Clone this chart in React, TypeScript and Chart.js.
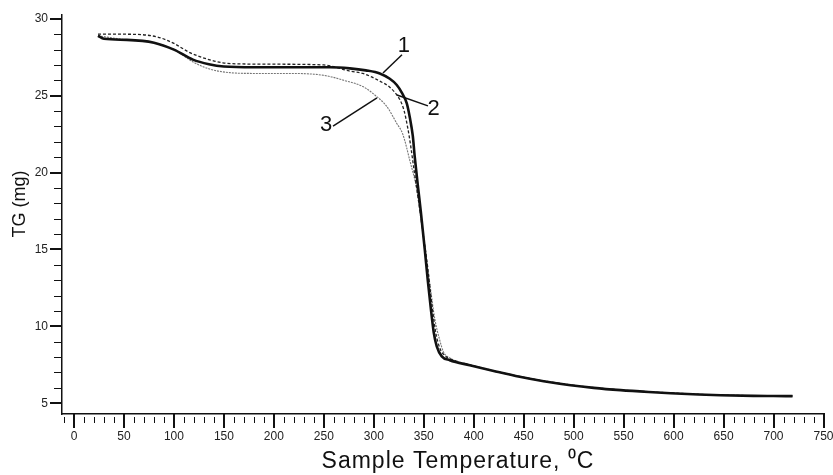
import React, { useEffect, useRef } from 'react';
import { Chart, registerables } from 'chart.js';

Chart.register(...registerables);

// Series 1 (thick solid)
const temp1 = [24, 30, 53, 80, 100, 119, 135, 150, 180, 220, 256, 276, 292, 306, 316, 323, 328, 333, 336, 339, 341, 344, 347, 351, 354, 357, 360, 363, 368, 376, 396, 420, 446, 470, 497, 520, 547, 575, 597, 625, 647, 680, 700, 719];
const tg1 = [28.9, 28.7, 28.63, 28.45, 28.0, 27.35, 27.05, 26.9, 26.85, 26.85, 26.85, 26.78, 26.65, 26.45, 26.1, 25.7, 25.2, 24.5, 23.6, 22.4, 21.0, 19.2, 17.5, 15.0, 13.0, 11.2, 9.6, 8.7, 8.05, 7.8, 7.47, 7.1, 6.72, 6.43, 6.17, 6.0, 5.85, 5.73, 5.65, 5.57, 5.52, 5.48, 5.47, 5.46];

// Series 2 (dashed)
const temp2 = [24, 50, 83, 100, 116, 135, 149, 166, 200, 250, 276, 289, 306, 316, 326, 330, 334, 337, 340, 344, 349, 354, 358, 362, 366, 371, 380, 396, 446, 497, 547, 597, 647, 719];
const tg2 = [29.0, 29.0, 28.83, 28.4, 27.8, 27.35, 27.14, 27.07, 27.05, 27.0, 26.6, 26.45, 25.95, 25.55, 24.75, 24.1, 22.9, 21.7, 20.3, 18.5, 16.2, 13.8, 11.5, 9.6, 8.6, 8.1, 7.8, 7.5, 6.74, 6.19, 5.87, 5.67, 5.53, 5.47];

// Series 3 (grey dotted)
const temp3 = [24, 53, 80, 100, 119, 135, 156, 180, 210, 240, 256, 270, 289, 300, 313, 323, 329, 336, 343, 349, 356, 361, 366, 370, 376, 396, 446, 497, 547, 597, 647, 719];
const tg3 = [28.9, 28.63, 28.45, 28.0, 27.2, 26.75, 26.5, 26.45, 26.45, 26.4, 26.25, 26.0, 25.6, 25.1, 24.3, 23.2, 22.5, 20.8, 18.9, 16.1, 12.8, 10.5, 9.1, 8.3, 7.95, 7.5, 6.72, 6.18, 5.86, 5.66, 5.53, 5.47];

// Curve labels with leader lines (data coordinates)
const annLabels = ['1', '2', '3'];
const annLineX1 = [309.2, 323.2, 259.2];
const annLineY1 = [26.48, 25.05, 23.03];
const annLineX2 = [328.2, 354.2, 303.2];
const annLineY2 = [27.66, 24.34, 24.86];
const annTextX = [330.2, 359.8, 252.2];
const annTextY = [28.21, 24.11, 23.1];

// Axis titles
const X_TITLE = 'Sample Temperature, ⁰C';
const Y_TITLE = 'TG (mg)';

// Axis settings
const X_MIN = -12;
const X_MAX = 750.5;
const X_TICK_START = -10;
const X_TICK_END = 750;
const X_MINOR_STEP = 10;
const X_MAJOR_STEP = 50;
const Y_MIN = 4.3;
const Y_MAX = 30.25;
const Y_TICK_START = 5;
const Y_TICK_END = 30;
const Y_MINOR_STEP = 1;
const Y_MAJOR_STEP = 5;

const toPoints = (xs: number[], ys: number[]) => xs.map((x, i) => ({ x, y: ys[i] }));

const tickFont = { family: "'Liberation Sans Narrow', 'Arial Narrow', Arial, sans-serif", size: 12 };

const axisTicksPlugin = {
  id: 'axisTicks',
  afterDraw(chart: any) {
    const { ctx, chartArea } = chart;
    const xs = chart.scales.x;
    const ys = chart.scales.y;
    ctx.save();
    ctx.strokeStyle = '#111';
    for (let v = X_TICK_START; v <= X_TICK_END; v += X_MINOR_STEP) {
      const major = v % X_MAJOR_STEP === 0;
      const px = Math.round(xs.getPixelForValue(v)) + (major ? 0 : 0.5);
      ctx.lineWidth = major ? 2 : 1;
      ctx.beginPath();
      ctx.moveTo(px, chartArea.bottom + (major ? 0 : 3));
      ctx.lineTo(px, chartArea.bottom + (major ? 14 : 9));
      ctx.stroke();
    }
    for (let v = Y_TICK_START; v <= Y_TICK_END; v += Y_MINOR_STEP) {
      const major = v % Y_MAJOR_STEP === 0;
      const py = Math.round(ys.getPixelForValue(v)) + (major ? 0 : 0.5);
      ctx.lineWidth = major ? 2 : 1;
      ctx.beginPath();
      ctx.moveTo(chartArea.left, py);
      ctx.lineTo(chartArea.left - (major ? 12 : 8), py);
      ctx.stroke();
    }

    // axis titles
    ctx.fillStyle = '#111';
    ctx.textAlign = 'center';
    ctx.textBaseline = 'middle';
    ctx.font = '23px Arial, "Liberation Sans", sans-serif';
    try { (ctx as any).letterSpacing = '1px'; } catch (e) { /* ignore */ }
    ctx.fillText(X_TITLE, 458, 462);
    try { (ctx as any).letterSpacing = '0px'; } catch (e) { /* ignore */ }
    ctx.save();
    ctx.translate(20, 204);
    ctx.rotate(-Math.PI / 2);
    ctx.font = '18px Arial, "Liberation Sans", sans-serif';
    ctx.fillText(Y_TITLE, 0, 0);
    ctx.restore();
    ctx.restore();
  },
};

const annotationPlugin = {
  id: 'curveLabels',
  afterDatasetsDraw(chart: any) {
    const { ctx } = chart;
    const xs = chart.scales.x;
    const ys = chart.scales.y;
    ctx.save();
    ctx.strokeStyle = '#111';
    ctx.lineWidth = 1.5;
    ctx.fillStyle = '#111';
    ctx.font = '22px Arial, "Liberation Sans", sans-serif';
    ctx.textAlign = 'center';
    ctx.textBaseline = 'middle';
    annLabels.forEach((lab, i) => {
      ctx.beginPath();
      ctx.moveTo(xs.getPixelForValue(annLineX1[i]), ys.getPixelForValue(annLineY1[i]));
      ctx.lineTo(xs.getPixelForValue(annLineX2[i]), ys.getPixelForValue(annLineY2[i]));
      ctx.stroke();
      ctx.fillText(lab, xs.getPixelForValue(annTextX[i]), ys.getPixelForValue(annTextY[i]));
    });
    ctx.restore();
  },
};

export default function App() {
  const canvasRef = useRef<HTMLCanvasElement | null>(null);

  useEffect(() => {
    if (!canvasRef.current) return;
    const chart = new Chart(canvasRef.current, {
      type: 'line',
      data: {
        datasets: [
          {
            label: '1',
            data: toPoints(temp1, tg1),
            borderColor: '#111',
            borderWidth: 2.6,
            pointRadius: 0,
            tension: 0.4,
            cubicInterpolationMode: 'monotone',
            order: 1,
          },
          {
            label: '2',
            data: toPoints(temp2, tg2),
            borderColor: '#222',
            borderWidth: 1.3,
            borderDash: [3, 2],
            pointRadius: 0,
            tension: 0.4,
            cubicInterpolationMode: 'monotone',
            order: 2,
          },
          {
            label: '3',
            data: toPoints(temp3, tg3),
            borderColor: '#777',
            borderWidth: 1.1,
            borderDash: [2, 1],
            pointRadius: 0,
            tension: 0.4,
            cubicInterpolationMode: 'monotone',
            order: 3,
          },
        ],
      },
      options: {
        animation: false,
        responsive: true,
        maintainAspectRatio: false,
        layout: { padding: { top: 15, right: 9, left: 0, bottom: 0 } },
        plugins: { legend: { display: false }, tooltip: { enabled: false } },
        scales: {
          x: {
            type: 'linear',
            min: X_MIN,
            max: X_MAX,
            afterFit: (scale: any) => {
              scale.height = 61;
              scale.paddingLeft = 0;
              scale.paddingRight = 0;
            },
            grid: { display: true, drawOnChartArea: false, drawTicks: false },
            border: { display: true, color: '#111', width: 1.5 },
            ticks: {
              stepSize: X_MINOR_STEP,
              includeBounds: false,
              autoSkip: false,
              maxRotation: 0,
              padding: 15,
              color: '#222',
              font: tickFont,
              callback: (v: any) => (Number(v) % X_MAJOR_STEP === 0 ? String(v) : ''),
            },
            title: { display: false },
          },
          y: {
            type: 'linear',
            min: Y_MIN,
            max: Y_MAX,
            afterFit: (scale: any) => {
              scale.width = 62;
              scale.paddingTop = 0;
              scale.paddingBottom = 0;
            },
            grid: { display: true, drawOnChartArea: false, drawTicks: false },
            border: { display: true, color: '#111', width: 1.5 },
            ticks: {
              stepSize: Y_MINOR_STEP,
              includeBounds: false,
              autoSkip: false,
              padding: 14,
              color: '#222',
              font: tickFont,
              callback: (v: any) => (Number(v) % Y_MAJOR_STEP === 0 ? String(v) : ''),
            },
            title: { display: false },
          },
        },
      },
      plugins: [axisTicksPlugin, annotationPlugin],
    } as any);
    return () => chart.destroy();
  }, []);

  return (
    <div style={{ position: 'fixed', left: 0, top: 0, width: 833, height: 475, background: '#fff' }}>
      <canvas ref={canvasRef} />
    </div>
  );
}
